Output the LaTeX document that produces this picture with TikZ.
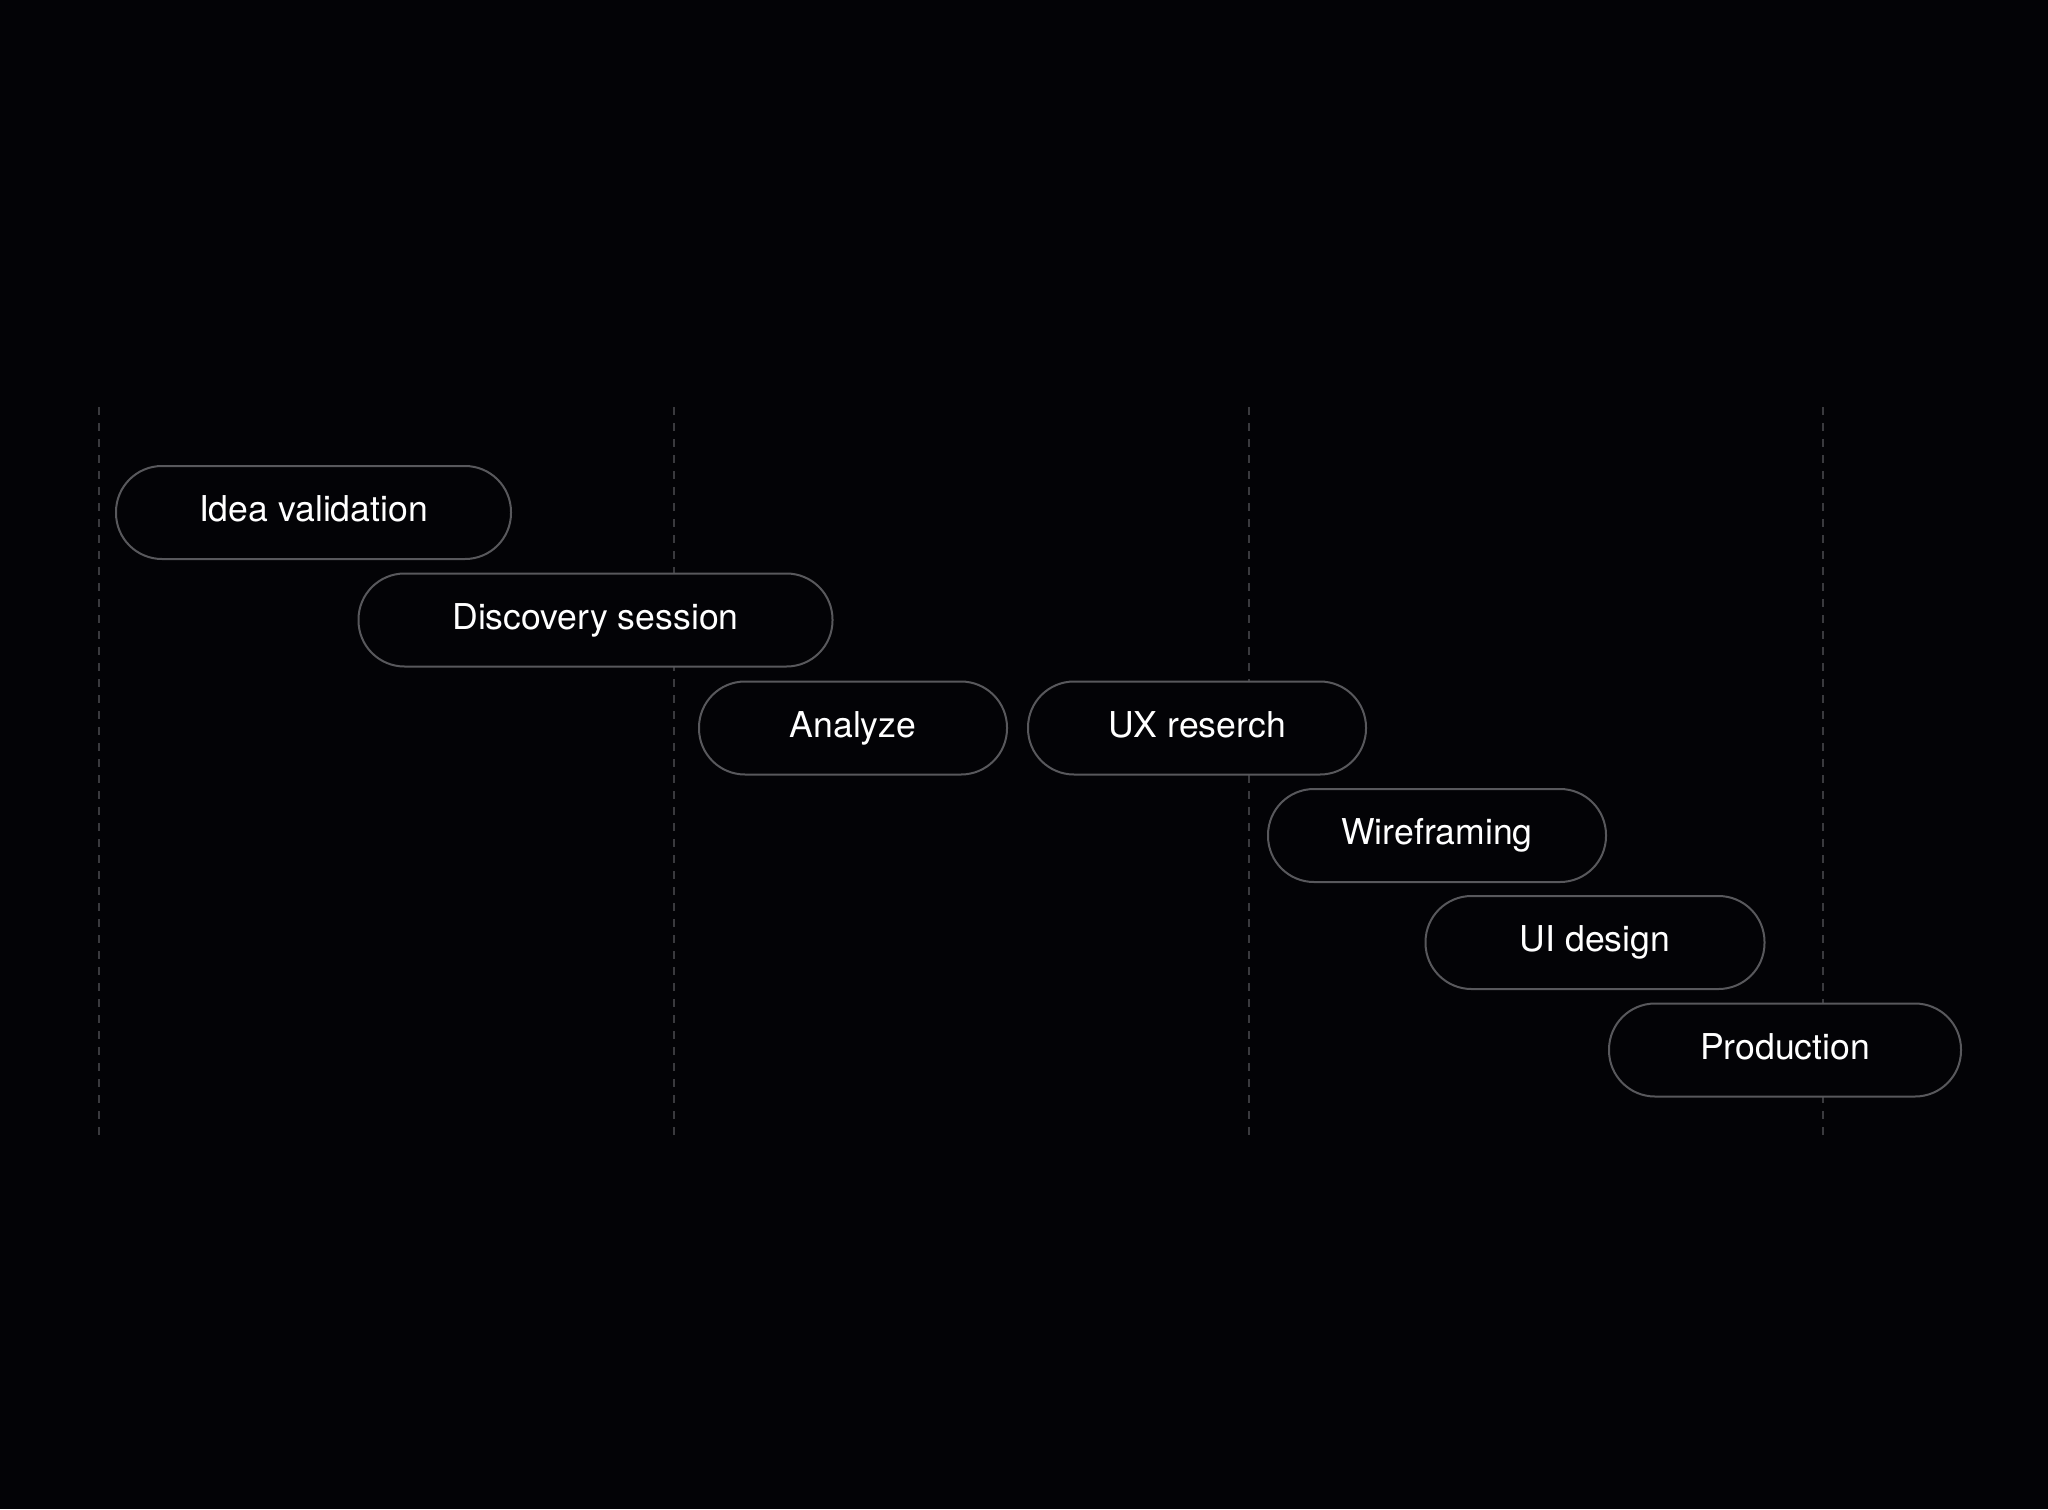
\documentclass[tikz,border=0pt]{standalone}
\usepackage{fontspec}
\setmainfont{TeX Gyre Heros}
\definecolor{bg}{RGB}{3,3,6}
\definecolor{pillgray}{RGB}{88,88,92}
\definecolor{guidegray}{RGB}{58,58,62}
\begin{document}
\begin{tikzpicture}[x=0.5pt,y=-0.5pt,
  pill/.style={draw=pillgray, line width=1pt, fill=bg, rounded corners=23pt,
    minimum height=46.5pt, inner sep=0pt, text=white,
    text height=0.94em, text depth=0pt,
    font=\fontsize{17.8}{20}\selectfont},
  guide/.style={draw=guidegray, line width=0.75pt, dash pattern=on 4pt off 4pt}]
\fill[bg] (0,0) rectangle (2048,1509);
\useasboundingbox (0,0) rectangle (2048,1509);
% guide lines
\coordinate (g1t) at (99,407);   \coordinate (g1b) at (99,1136);
\coordinate (g2t) at (674,407);  \coordinate (g2b) at (674,1136);
\coordinate (g3t) at (1249,407); \coordinate (g3b) at (1249,1136);
\coordinate (g4t) at (1823,407); \coordinate (g4b) at (1823,1136);
\draw[guide] (g1t) -- (g1b);
\draw[guide] (g2t) -- (g2b);
\draw[guide] (g3t) -- (g3b);
\draw[guide] (g4t) -- (g4b);
% pills
\node[pill, minimum width=197.5pt] (idea) at (313.5,512.5) {Idea validation};
\node[pill, minimum width=237pt] (disc) at (595.5,620) {Discovery session};
\node[pill, minimum width=154pt] (anal) at (853,728) {Analyze};
\node[pill, minimum width=169pt] (ux) at (1197,728) {UX reserch};
\node[pill, minimum width=169pt] (wire) at (1437,835.5) {Wireframing};
\node[pill, minimum width=169.5pt] (ui) at (1595,942.5) {UI design};
\node[pill, minimum width=176pt] (prod) at (1785,1050) {Production};
\end{tikzpicture}
\end{document}
